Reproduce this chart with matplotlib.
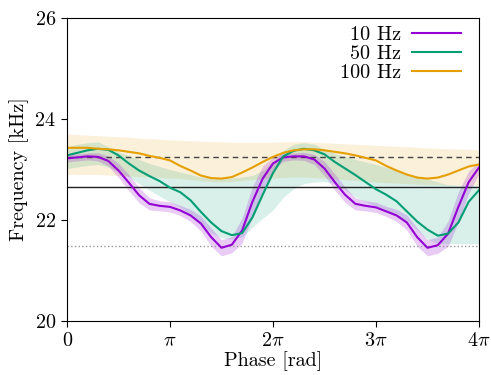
import numpy as np
import matplotlib
matplotlib.use("Agg")
import matplotlib.pyplot as plt

plt.rcParams["font.family"] = "serif"
plt.rcParams["font.serif"] = ["cmr10"]
plt.rcParams["mathtext.fontset"] = "cm"
plt.rcParams["axes.formatter.use_mathtext"] = True
plt.rcParams["font.size"] = 14.5

# phase in units of pi
phase_pi = np.linspace(0, 4, 41)

# 10 Hz
f10 = [23.22, 23.24, 23.26, 23.25, 23.17, 22.98, 22.74, 22.49, 22.32, 22.28,
       22.26, 22.19, 22.09, 21.93, 21.66, 21.45, 21.51, 21.79, 22.36, 22.82,
       23.12, 23.24, 23.26, 23.26, 23.20, 23.02, 22.75, 22.50, 22.32, 22.28,
       22.25, 22.17, 22.09, 21.95, 21.66, 21.45, 21.50, 21.73, 22.26, 22.75, 23.04]
f10_err = [0.07, 0.07, 0.07, 0.08, 0.10, 0.14, 0.16, 0.15, 0.12, 0.10,
           0.10, 0.10, 0.12, 0.15, 0.18, 0.16, 0.16, 0.25, 0.30, 0.25,
           0.12, 0.08, 0.07, 0.08, 0.10, 0.14, 0.16, 0.15, 0.12, 0.10,
           0.10, 0.10, 0.12, 0.15, 0.18, 0.16, 0.16, 0.25, 0.30, 0.22, 0.12]

# 50 Hz
f50 = [23.28, 23.33, 23.38, 23.41, 23.39, 23.28, 23.12, 22.98, 22.87, 22.77,
       22.64, 22.55, 22.39, 22.16, 21.95, 21.78, 21.70, 21.74, 22.05, 22.50,
       22.93, 23.26, 23.37, 23.41, 23.38, 23.30, 23.15, 23.02, 22.89, 22.75,
       22.61, 22.50, 22.37, 22.17, 21.97, 21.81, 21.69, 21.73, 21.95, 22.36, 22.59]
f50_lo = [23.02, 23.05, 23.08, 23.10, 23.05, 22.95, 22.85, 22.72, 22.59, 22.47,
          22.36, 22.25, 22.10, 21.92, 21.74, 21.65, 21.62, 21.66, 21.86, 22.03,
          22.20, 22.45, 22.62, 22.72, 22.75, 22.76, 22.72, 22.60, 22.46, 22.36,
          22.28, 22.20, 22.10, 21.98, 21.80, 21.62, 21.53, 21.53, 21.53, 21.53, 21.53]
f50_hi = [23.45, 23.50, 23.53, 23.55, 23.45, 23.35, 23.27, 23.20, 23.12, 23.06,
          23.00, 22.95, 22.90, 22.85, 22.83, 22.83, 22.83, 22.85, 22.88, 22.98,
          23.15, 23.38, 23.50, 23.53, 23.50, 23.40, 23.32, 23.26, 23.20, 23.15,
          23.10, 23.04, 22.98, 22.92, 22.87, 22.81, 22.75, 22.70, 22.69, 22.69, 22.69]

# 100 Hz
f100 = [23.43, 23.43, 23.43, 23.41, 23.40, 23.38, 23.35, 23.32, 23.27, 23.23,
        23.18, 23.07, 22.98, 22.88, 22.83, 22.82, 22.85, 22.94, 23.04, 23.15,
        23.25, 23.33, 23.38, 23.40, 23.40, 23.38, 23.35, 23.32, 23.28, 23.23,
        23.18, 23.07, 22.98, 22.90, 22.84, 22.82, 22.84, 22.90, 22.98, 23.06, 23.10]
f100_lo = [22.90, 22.90, 22.90, 22.90, 22.89, 22.88, 22.87, 22.86, 22.85, 22.84,
           22.83, 22.82, 22.80, 22.78, 22.76, 22.75, 22.76, 22.78, 22.80, 22.82,
           22.83, 22.84, 22.85, 22.85, 22.84, 22.83, 22.82, 22.80, 22.78, 22.77,
           22.75, 22.74, 22.73, 22.72, 22.71, 22.70, 22.70, 22.69, 22.69, 22.69, 22.69]
f100_hi = [23.70, 23.69, 23.68, 23.67, 23.66, 23.65, 23.64, 23.62, 23.61, 23.60,
           23.59, 23.58, 23.57, 23.56, 23.55, 23.55, 23.54, 23.54, 23.54, 23.54,
           23.54, 23.55, 23.55, 23.55, 23.54, 23.53, 23.52, 23.51, 23.50, 23.49,
           23.48, 23.47, 23.46, 23.45, 23.44, 23.43, 23.42, 23.41, 23.40, 23.40, 23.39]

# reference levels
ref_dashed = 23.25
ref_solid = 22.66
ref_dotted = 21.48

c10 = "#9400D3"
c50 = "#009E73"
c100 = "#E69F00"

x = phase_pi * np.pi
f10 = np.array(f10)
f10_err = np.array(f10_err)

fig = plt.figure(figsize=(4.91, 3.75), dpi=100)
ax = fig.add_axes([0.1365, 0.144, 0.839, 0.808])

ax.fill_between(x, f100_lo, f100_hi, color=c100, alpha=0.15, lw=0)
ax.fill_between(x, f50_lo, f50_hi, color=c50, alpha=0.15, lw=0)
ax.fill_between(x, f10 - f10_err, f10 + f10_err, color=c10, alpha=0.2, lw=0)

ax.axhline(ref_dashed, color="#444444", lw=1, ls=(0, (4, 3)))
ax.axhline(ref_solid, color="#222222", lw=1)
ax.axhline(ref_dotted, color="#999999", lw=1, ls=":")

ax.plot(x, f10, color=c10, lw=1.5, label="10 Hz")
ax.plot(x, f50, color=c50, lw=1.5, label="50 Hz")
ax.plot(x, f100, color=c100, lw=1.5, label="100 Hz")

ax.set_xlim(0, 4 * np.pi)
ax.set_ylim(20, 26)
ax.set_xticks(np.arange(5) * np.pi)
ax.set_xticklabels(["0", r"$\pi$", r"$2\pi$", r"$3\pi$", r"$4\pi$"])
ax.set_yticks([20, 22, 24, 26])
ax.tick_params(direction="out", length=4.5, width=0.8)
ax.set_xlabel("Phase [rad]", labelpad=1)
ax.set_ylabel("Frequency [kHz]", labelpad=4)

ax.legend(loc="upper right", frameon=False, markerfirst=False,
          labelspacing=0.05, handlelength=2.4, handletextpad=0.55,
          borderaxespad=0.0, bbox_to_anchor=(0.975, 1.0))

fig.savefig("out.png", dpi=100)
